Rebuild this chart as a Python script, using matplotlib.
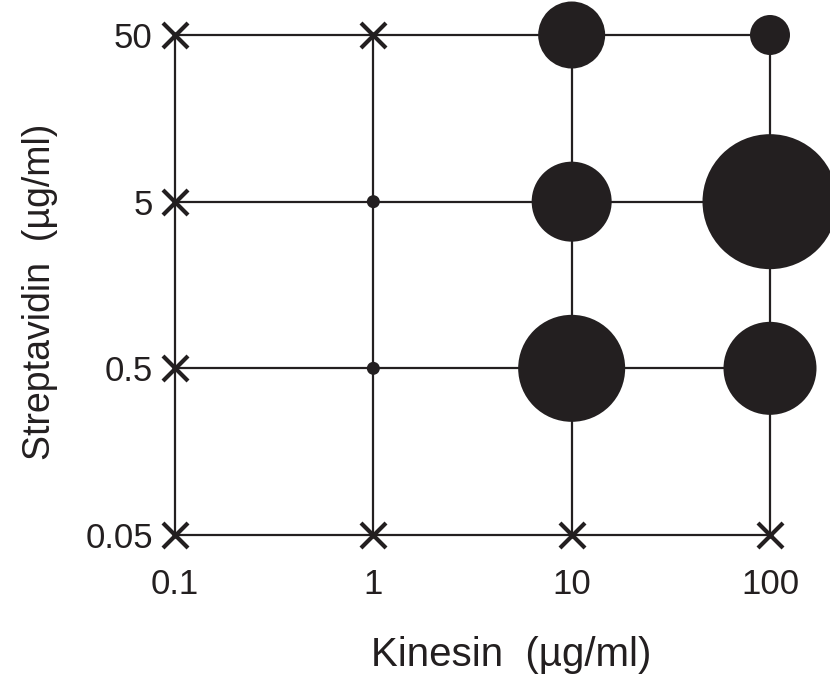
import numpy as np
import matplotlib.pyplot as plt

plt.rcParams['font.family'] = ['Liberation Sans', 'DejaVu Sans']

ink = '#231f20'

# concentration grid
kinesin = [0.1, 1, 10, 100]
strept = [0.05, 0.5, 5, 50]

# wells with no motility (crosses)
none_x = [0.1, 0.1, 0.1, 0.1, 1, 1, 10, 100]
none_y = [0.05, 0.5, 5, 50, 50, 0.05, 0.05, 0.05]

# wells with motility, bubble value (relative)
mot_x = [1, 1, 10, 100, 10, 100, 10, 100]
mot_y = [5, 0.5, 50, 50, 5, 5, 0.5, 0.5]
mot_val = [13, 13, 67, 40, 80, 135, 107, 93]

fig = plt.figure(figsize=(8.3, 6.79), dpi=100)
ax = fig.add_axes([175 / 830, 1 - 535 / 679, 595 / 830, 500 / 679])
ax.set_xscale('log')
ax.set_yscale('log')
ax.set_xlim(0.1, 100)
ax.set_ylim(0.05, 50)

ax.hlines(strept, kinesin[0], kinesin[-1], color=ink, lw=1.6, clip_on=False, zorder=1)
ax.vlines(kinesin, strept[0], strept[-1], color=ink, lw=1.6, clip_on=False, zorder=1)

ax.plot(none_x, none_y, 'x', color=ink, ms=18, mew=3, clip_on=False, zorder=3)
sizes = [(v * 0.72) ** 2 for v in mot_val]
ax.scatter(mot_x, mot_y, s=sizes, color=ink, edgecolors='none', clip_on=False, zorder=2)

for s in ax.spines.values():
    s.set_visible(False)
ax.set_xticks(kinesin)
ax.set_xticklabels(['0.1', '1', '10', '100'])
ax.set_yticks(strept)
ax.set_yticklabels(['0.05', '0.5', '5', '50'])
ax.minorticks_off()
ax.tick_params(length=0, labelsize=25, colors=ink)
ax.tick_params(axis='x', pad=24)
ax.tick_params(axis='y', pad=16)

fig.text(511 / 830, 1 - 655 / 679, 'Kinesin  (µg/ml)', fontsize=29, color=ink,
         ha='center', va='center')
fig.text(40 / 830, 1 - 292 / 679, 'Streptavidin  (µg/ml)', fontsize=27, color=ink,
         ha='center', va='center', rotation=90)

fig.savefig('out.png', dpi=100)
